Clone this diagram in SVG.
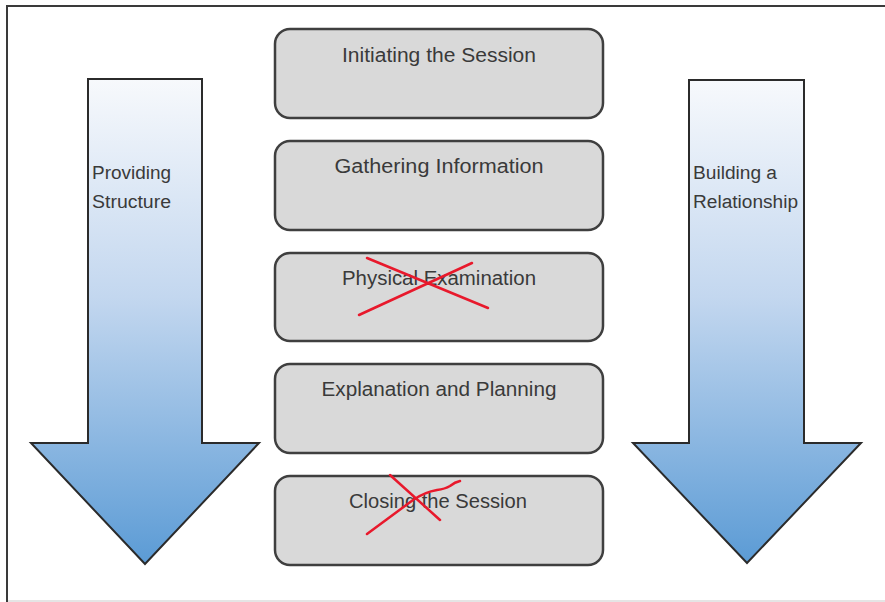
<svg xmlns="http://www.w3.org/2000/svg" width="885" height="602" viewBox="0 0 885 602">
<style>
.box{fill:#d9d9d9;stroke:#3f3f3f;stroke-width:2.5}
.arrow{fill:url(#blue);stroke:#2b2b2b;stroke-width:2;stroke-linejoin:miter}
.t{font-family:"Liberation Sans",Arial,sans-serif;font-size:20px;fill:#3a3a3a;text-anchor:middle}
.s{font-family:"Liberation Sans",Arial,sans-serif;font-size:18px;fill:#3a3a3a}
.x{fill:none;stroke:#e8192c;stroke-width:2.5;stroke-linecap:round}
</style>
<defs>
<linearGradient id="blue" x1="0" y1="0" x2="0" y2="1">
<stop offset="0" stop-color="#f7f9fc"/>
<stop offset="0.45" stop-color="#c3d7ef"/>
<stop offset="1" stop-color="#5b9bd5"/>
</linearGradient>
</defs>
<rect width="885" height="602" fill="#ffffff"/>
<g id="frame">
<line x1="7" y1="6" x2="885" y2="6" stroke="#3a3a3a" stroke-width="2"/>
<line x1="7" y1="5" x2="7" y2="602" stroke="#3a3a3a" stroke-width="2"/>
<line x1="8" y1="601" x2="885" y2="601" stroke="#dcdcdc" stroke-width="1.5"/>
</g>
<g id="arrow-left">
<polygon class="arrow" points="88,79 202,79 202,443 259,443 145,564 31,443 88,443"/>
<text class="s" x="92" y="179" textLength="79" lengthAdjust="spacingAndGlyphs">Providing</text>
<text class="s" x="92" y="208" textLength="79" lengthAdjust="spacingAndGlyphs">Structure</text>
</g>
<g id="arrow-right">
<polygon class="arrow" points="689,80 804,80 804,443 861,443 747,563 633,443 689,443"/>
<text class="s" x="693" y="179" textLength="84" lengthAdjust="spacingAndGlyphs">Building a</text>
<text class="s" x="693" y="208" textLength="105" lengthAdjust="spacingAndGlyphs">Relationship</text>
</g>
<g id="box1">
<rect class="box" x="275" y="29" width="328" height="89" rx="15"/>
<text class="t" x="439" y="62" textLength="194" lengthAdjust="spacingAndGlyphs">Initiating the Session</text>
</g>
<g id="box2">
<rect class="box" x="275" y="141" width="328" height="89" rx="15"/>
<text class="t" x="439" y="173" textLength="209" lengthAdjust="spacingAndGlyphs">Gathering Information</text>
</g>
<g id="box3">
<rect class="box" x="275" y="253" width="328" height="88" rx="15"/>
<text class="t" x="439" y="285" textLength="194" lengthAdjust="spacingAndGlyphs">Physical Examination</text>
<path class="x" d="M367,258 L488,308 M359,315 L472,263"/>
</g>
<g id="box4">
<rect class="box" x="275" y="364" width="328" height="89" rx="15"/>
<text class="t" x="439" y="396" textLength="235" lengthAdjust="spacingAndGlyphs">Explanation and Planning</text>
</g>
<g id="box5">
<rect class="box" x="275" y="476" width="328" height="89" rx="15"/>
<text class="t" x="438" y="508" textLength="178" lengthAdjust="spacingAndGlyphs">Closing the Session</text>
<path class="x" d="M390,475 L440,520 M367,534 L413,500 Q425,492 437,490 Q445,489 450,486 Q455,482 460,481"/>
</g>
<g id="connectors"/>
</svg>
